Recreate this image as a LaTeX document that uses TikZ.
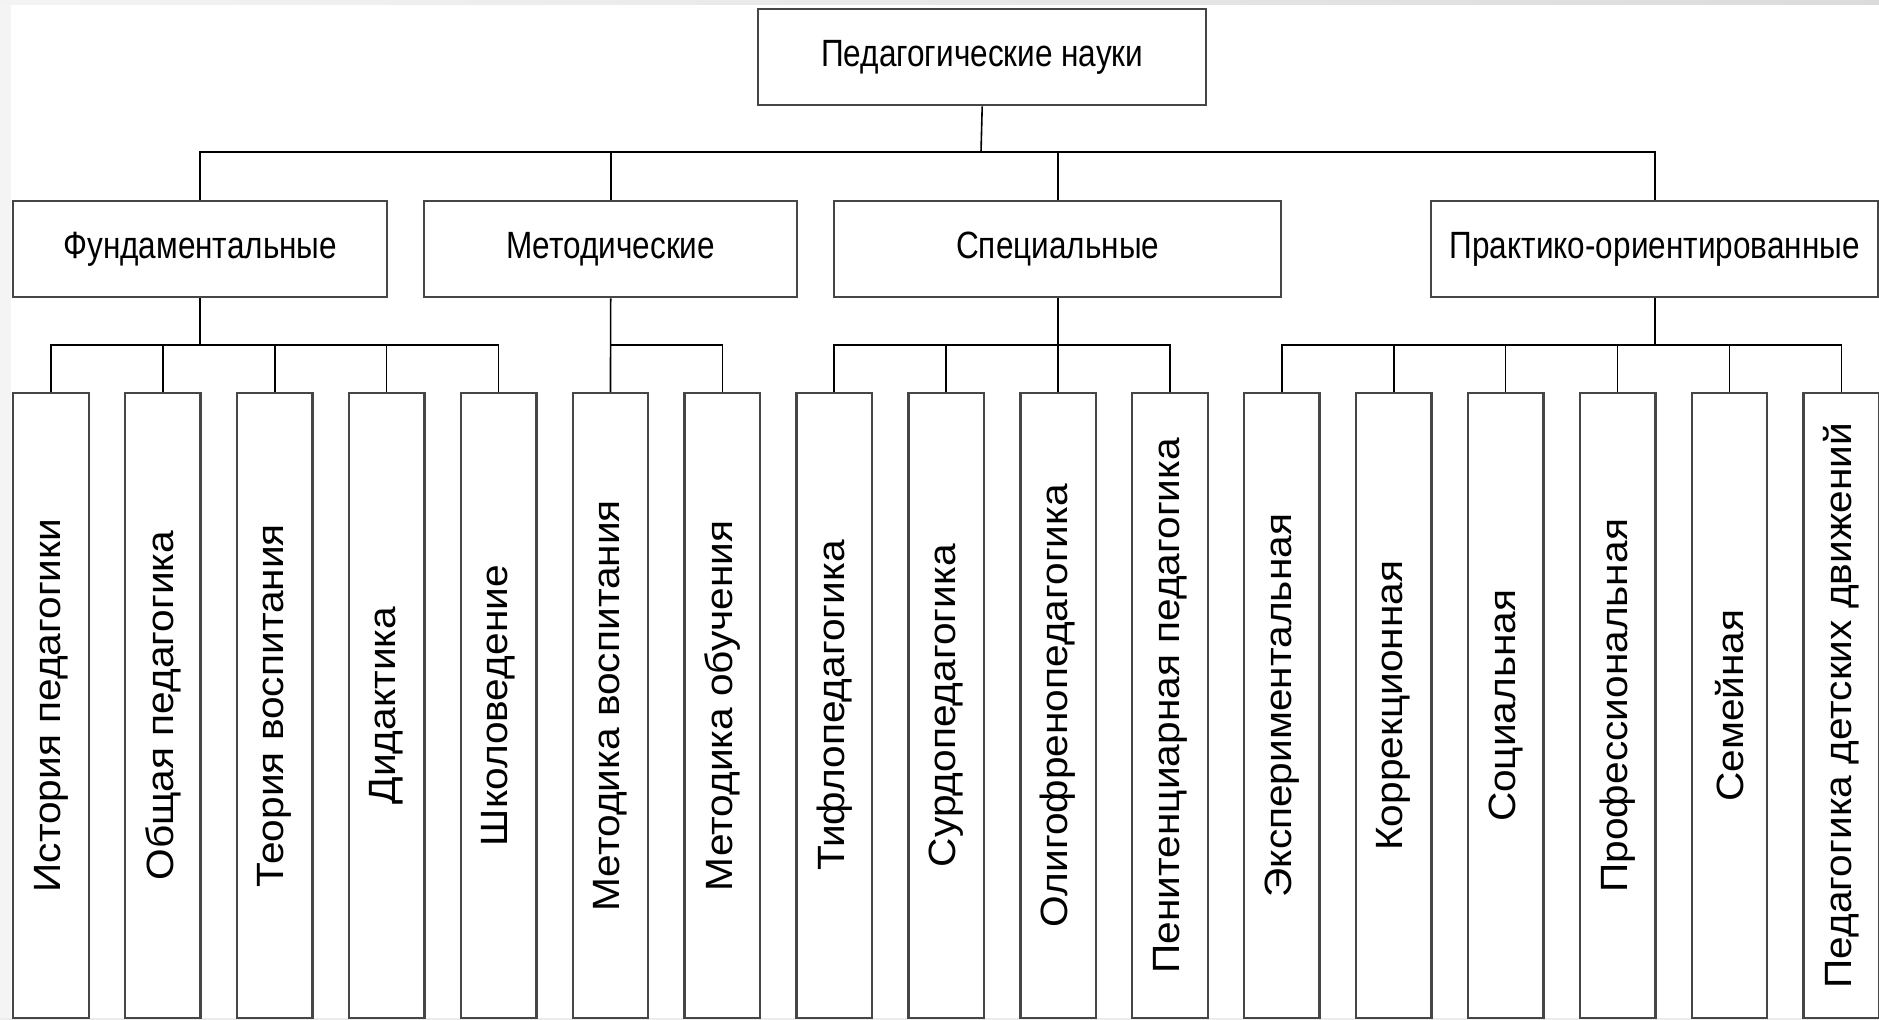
\documentclass[tikz,border=0pt]{standalone}
\usepackage{fontspec}
\setmainfont{Liberation Sans}
\newfontfamily\narrowfont[FakeStretch=0.83]{Liberation Sans}
\newfontfamily\leaffont[FakeStretch=1.07]{Liberation Sans}
\begin{document}
\begin{tikzpicture}[x=0.5pt,y=-0.5pt,
  boxline/.style={draw={rgb,255:red,70;green,70;blue,70}, line width=1.2pt, fill=white, inner sep=0pt},
  topbox/.style={boxline, anchor=north west, font=\narrowfont\fontsize{19}{22}\selectfont, minimum height=48pt},
  leafbox/.style={boxline, anchor=north west, minimum width=37.75pt, minimum height=312.5pt, font=\leaffont\fontsize{19}{22}\selectfont},
  conn/.style={draw=black, line width=0.8pt}]
\useasboundingbox (0,0) rectangle (1879,1020);
\fill[white] (0,0) rectangle (1879,1020);
\fill[gray!9] (0,0) rectangle (11,1020);
\shade[left color=gray!9, right color=gray!28] (0,0) rectangle (1879,5);
\fill[gray!15] (0,1018) rectangle (1879,1020);

% top
\node[topbox, minimum width=224pt] (top) at (757,8) {Педагогические науки};
% level 2
\node[topbox, minimum width=187pt] (fund) at (12,200) {Фундаментальные};
\node[topbox, minimum width=186.5pt] (meth) at (423,200) {Методические};
\node[topbox, minimum width=223.5pt] (spec) at (833,200) {Специальные};
\node[topbox, minimum width=223.5pt] (prac) at (1430,200) {Практико-ориентированные};

% leaves
\foreach \i/\t in {0/История педагогики,1/Общая педагогика,2/Теория воспитания,3/Дидактика,4/Школоведение,5/Методика воспитания,6/Методика обучения,7/Тифлопедагогика,8/Сурдопедагогика,9/Олигофренопедагогика,10/Пенитенциарная педагогика,11/Экспериментальная,12/Коррекционная,13/Социальная,14/Профессиональная,15/Семейная,16/Педагогика детских движений}{
  \node[leafbox] (l\i) at ({12+111.9*\i},392) {\rotatebox{90}{\t}};
}

% connectors level 1
\coordinate (barA) at (981,152);
\draw[conn] (top.south) -- (barA);
\draw[conn] (fund.north) -- (fund.north |- barA) -- (prac.north |- barA) -- (prac.north);
\draw[conn] (meth.north) -- (meth.north |- barA);
\draw[conn] (spec.north) -- (spec.north |- barA);

% connectors level 2
\coordinate (barB) at (0,345);
\draw[conn] (fund.south) -- (fund.south |- barB);
\draw[conn] (l0.north) -- (l0.north |- barB) -- (l4.north |- barB) -- (l4.north);
\draw[conn] (meth.south) -- (l5.north);
\draw[conn] (l5.north |- barB) -- (l6.north |- barB) -- (l6.north);
\draw[conn] (spec.south) -- (spec.south |- barB);
\draw[conn] (l7.north) -- (l7.north |- barB) -- (l10.north |- barB) -- (l10.north);
\draw[conn] (prac.south) -- (prac.south |- barB);
\draw[conn] (l11.north) -- (l11.north |- barB) -- (l16.north |- barB) -- (l16.north);
\foreach \i in {1,2,3,8,9,12,13,14,15}{
  \draw[conn] (l\i.north) -- (l\i.north |- barB);
}
\end{tikzpicture}
\end{document}
